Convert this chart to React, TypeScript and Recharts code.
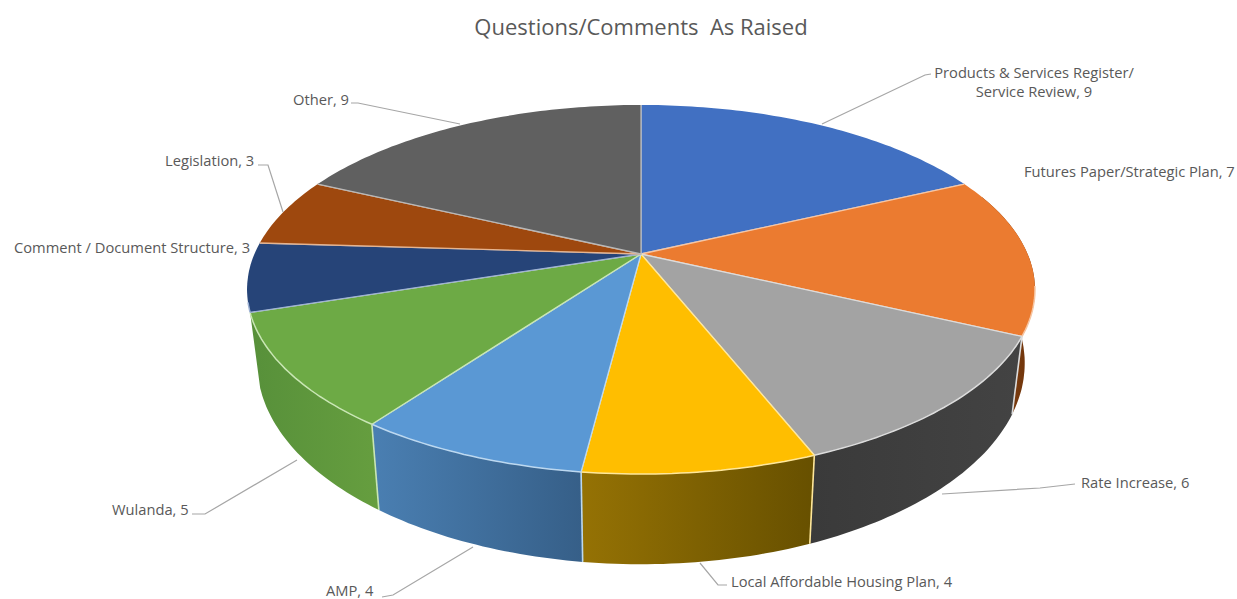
import React from "react";
import { PieChart, Pie } from "recharts";

const categories = [
  "Products & Services Register/ Service Review",
  "Futures Paper/Strategic Plan",
  "Rate Increase",
  "Local Affordable Housing Plan",
  "AMP",
  "Wulanda",
  "Comment / Document Structure",
  "Legislation",
  "Other",
];
const counts = [9, 7, 6, 4, 4, 5, 3, 3, 9];
const topColors = ["#4170C2", "#EB7B30", "#A3A3A3", "#FFBE00", "#5A98D4", "#6DAA45", "#264478", "#9E480E", "#606060"];
const wallStart = ["#2c4a80", "#8a4a1c", "#3a3a3a", "#957204", "#4a7fb2", "#57903a", "#1c3358", "#76360b", "#4a4a4a"];
const wallEnd = ["#2c4a80", "#6e3208", "#434343", "#675000", "#365f88", "#669e3f", "#1c3358", "#76360b", "#4a4a4a"];
const edgeColors = ["#a9bfe6", "#f7c6a3", "#dcdcdc", "#ffe79a", "#bcd8f0", "#c9e6b4", "#9fb2d4", "#e6b48f", "#b8b8b8"];

// Text anchors and leader polylines for each slice's callout.
const calloutLines: string[][] = [
  ["Products & Services Register/", "Service Review, 9"],
  ["Futures Paper/Strategic Plan, 7"],
  ["Rate Increase, 6"],
  ["Local Affordable Housing Plan, 4"],
  ["AMP, 4"],
  ["Wulanda, 5"],
  ["Comment / Document Structure, 3"],
  ["Legislation, 3"],
  ["Other, 9"],
];
const calloutX = [1034, 1024, 1081, 731, 326, 112, 14, 165, 293];
const calloutY = [72, 171, 482, 581, 590, 509, 247, 160, 99];
const calloutAnchor = ["middle", "start", "start", "start", "start", "start", "start", "start", "start"];
const leaders = [
  "822,124 925,75 931,74",
  "",
  "942,494 1040,488 1075,484",
  "700,563 718,585 727,585",
  "473,547 393,595 382,597",
  "297,460 205,514 192,514",
  "",
  "283,212 268,165 258,165",
  "460,124 358,103 351,103",
];

const rows = categories.map((name, i) => ({ name, value: counts[i], index: i }));

const CX = 641;
const CY = 254;
const SCALE_X = 386.6;
const SCALE_Y = 177.7;
const TILT = 0.1924;

// Perspective projection of a point on the unit disc; theta runs clockwise from 12 o'clock.
const rim = (theta: number) => {
  const r = (theta * Math.PI) / 180;
  const u = Math.sin(r);
  const v = -Math.cos(r);
  const w = 1 - TILT * v;
  return [CX + (SCALE_X * u) / w, CY + (SCALE_Y * v) / w];
};
// The underside of the disc, pushed down and drawn slightly narrower.
const lower = ([x, y]: number[]) => [CX + 0.974 * (x - CX), 1.089 * y + 48];

const arcPoints = (a: number, b: number) => {
  const pts: number[][] = [];
  const steps = Math.max(2, Math.ceil(Math.abs(b - a)));
  for (let i = 0; i <= steps; i++) pts.push(rim(a + ((b - a) * i) / steps));
  return pts;
};
const toPath = (pts: number[][]) =>
  pts.map((p, i) => `${i ? "L" : "M"}${p[0].toFixed(1)} ${p[1].toFixed(1)}`).join(" ");

const TopSlice = (props: any) => {
  const a = 90 - props.startAngle;
  const b = 90 - props.endAngle;
  const i = props.payload?.index ?? props.index;
  const arc = arcPoints(a, b);
  const first = arc[0];
  const last = arc[arc.length - 1];
  const litFrom = Math.max(a, 100);
  const litTo = Math.min(b, 255);
  return (
    <g>
      <path d={`M${CX} ${CY} ${toPath(arc).replace("M", "L")} Z`} fill={topColors[i]} />
      <path
        d={`M${first[0]} ${first[1]} L${CX} ${CY} L${last[0]} ${last[1]}`}
        fill="none"
        stroke={edgeColors[i]}
        strokeWidth={1.3}
      />
      {litTo > litFrom ? (
        <path d={toPath(arcPoints(litFrom, litTo))} fill="none" stroke={edgeColors[i]} strokeWidth={1.5} />
      ) : null}
    </g>
  );
};

const WallSlice = (props: any) => {
  const a = Math.max(90 - props.startAngle, 70);
  const b = Math.min(90 - props.endAngle, 252);
  const i = props.payload?.index ?? props.index;
  if (b <= a) return <g />;
  const upper = arcPoints(a, b);
  const under = upper.map(lower).reverse();
  const edge = (p: number[]) => {
    const q = lower(p);
    return <line x1={p[0]} y1={p[1]} x2={q[0]} y2={q[1]} stroke={edgeColors[i]} strokeWidth={1.6} />;
  };
  return (
    <g>
      <path d={`${toPath(upper)} ${toPath(under).replace("M", "L")} Z`} fill={`url(#wall-${i})`} />
      {a > 70 ? edge(upper[0]) : null}
    </g>
  );
};

const Callout = (props: any) => {
  const i = props.payload?.index ?? props.index;
  return (
    <g>
      {leaders[i] ? <polyline points={leaders[i]} fill="none" stroke="#a6a6a6" strokeWidth={1.2} /> : null}
      <text
        x={calloutX[i]}
        y={calloutY[i]}
        textAnchor={calloutAnchor[i] as any}
        fontFamily="'Open Sans', sans-serif"
        fontSize={14.7}
        fill="#595959"
        dominantBaseline="central"
      >
        {calloutLines[i].map((line, n) => (
          <tspan key={n} x={calloutX[i]} dy={n ? 19 : 0}>
            {line}
          </tspan>
        ))}
      </text>
    </g>
  );
};

export default function App() {
  return (
    <div style={{ position: "absolute", left: 0, top: 0, width: 1237, height: 599, background: "#fff" }}>
      <PieChart width={1237} height={599} margin={{ top: 0, right: 0, bottom: 0, left: 0 }}>
        <defs>
          {wallStart.map((c, i) => (
            <linearGradient key={i} id={`wall-${i}`} x1="0" y1="0" x2="1" y2="0">
              <stop offset="0%" stopColor={c} />
              <stop offset="100%" stopColor={wallEnd[i]} />
            </linearGradient>
          ))}
        </defs>
        <text
          x={641}
          y={26}
          textAnchor="middle"
          dominantBaseline="central"
          fontFamily="'Open Sans', sans-serif"
          fontSize={22}
          fill="#595959"
          xmlSpace="preserve"
        >
          Questions/Comments  As Raised
        </text>
        <Pie
          data={rows}
          dataKey="value"
          nameKey="name"
          cx={CX}
          cy={CY}
          outerRadius={SCALE_X}
          startAngle={90}
          endAngle={-270}
          stroke="none"
          isAnimationActive={false}
          shape={WallSlice}
          legendType="none"
        />
        <Pie
          data={rows}
          dataKey="value"
          nameKey="name"
          cx={CX}
          cy={CY}
          outerRadius={SCALE_X}
          startAngle={90}
          endAngle={-270}
          stroke="none"
          isAnimationActive={false}
          shape={TopSlice}
          label={Callout}
          labelLine={false}
          legendType="none"
        />
      </PieChart>
    </div>
  );
}
